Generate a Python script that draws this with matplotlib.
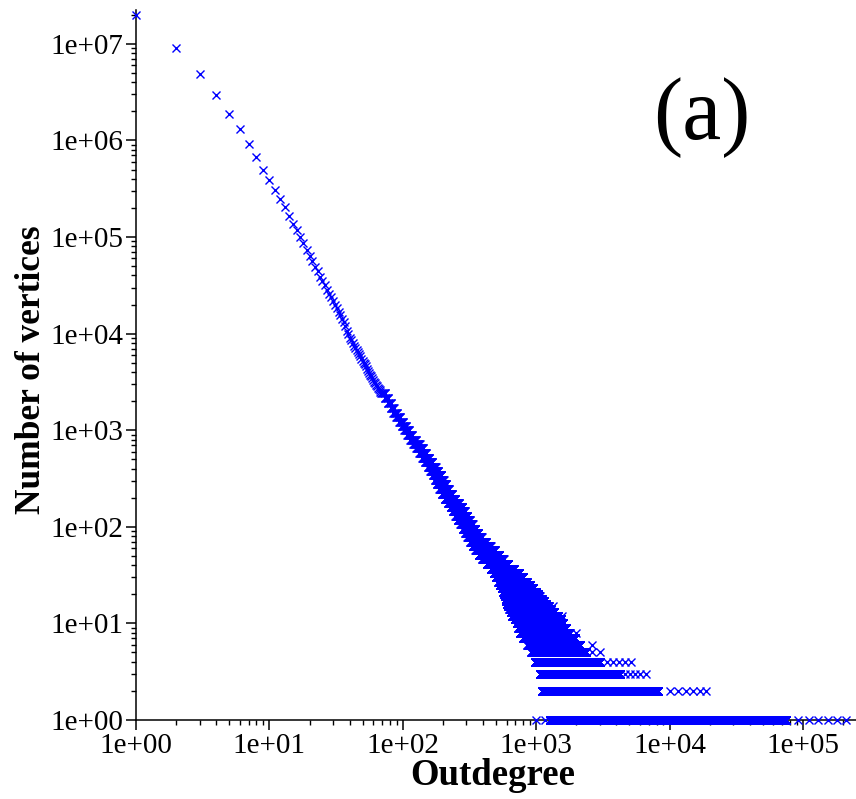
import numpy as np
import matplotlib
matplotlib.use("Agg")
import matplotlib.pyplot as plt
from matplotlib.ticker import LogLocator, FuncFormatter, NullFormatter

plt.rcParams['font.family'] = ['Liberation Serif', 'DejaVu Serif']

# head of the distribution: one marker per outdegree
HEAD_DEGREE = [1, 2, 3, 4, 5, 6, 7, 8, 9, 10,
               11, 12, 13, 14, 15, 16, 17, 18, 19, 20,
               21, 22, 23, 24, 25, 26, 27, 28, 29, 30,
               31, 32, 33, 34, 35, 36, 37, 38, 39, 40,
               41, 42, 43, 44, 45, 46, 47, 48, 49, 50,
               51, 52, 53, 54, 55, 56, 57, 58, 59, 60,
               61, 62, 63, 64, 65, 66, 67, 68, 69]
HEAD_COUNT = [2.0e7, 9.1e6, 4.9e6, 2.94e6, 1.87e6, 1.32e6, 9.1e5, 6.7e5, 5.0e5, 3.9e5,
              3.1e5, 2.46e5, 2.04e5, 1.66e5, 1.38e5, 1.18e5, 1.0e5, 8.6e4, 7.4e4, 6.4e4,
              5.6e4, 4.95e4, 4.4e4, 3.9e4, 3.5e4, 3.15e4, 2.85e4, 2.6e4, 2.37e4, 2.16e4,
              1.98e4, 1.82e4, 1.68e4, 1.55e4, 1.43e4, 1.33e4, 1.19e4, 1.07e4, 9.8e3, 9.0e3,
              8.5e3, 8.0e3, 7.5e3, 7.1e3, 6.7e3, 6.4e3, 6.1e3, 5.8e3, 5.5e3, 5.2e3,
              5.0e3, 4.8e3, 4.6e3, 4.35e3, 4.1e3, 3.9e3, 3.75e3, 3.6e3, 3.45e3, 3.3e3,
              3.17e3, 3.05e3, 2.95e3, 2.85e3, 2.75e3, 2.65e3, 2.58e3, 2.5e3, 2.45e3]

# tail cloud: every outdegree from ROW_FIRST to ROW_LAST has ROW_COUNT vertices
ROW_COUNT = [2400, 2150, 1900, 1700, 1520, 1360, 1220, 1100,
             1000, 900, 800, 720, 650, 580, 520, 470, 420, 380,
             340, 305, 275, 245, 220, 195, 175, 160, 145, 130,
             118, 106, 96, 86, 78, 70, 63, 57, 51, 46,
             41, 37, 33, 30, 27, 25, 23, 21, 20, 19,
             18, 17, 16, 15, 14, 13, 12, 11, 10, 9,
             8, 7, 6, 5, 4, 3, 2, 1]
ROW_FIRST = [70, 73, 77, 81, 85, 89, 94, 98,
             103, 108, 114, 120, 126, 133, 140, 147, 154, 161,
             168, 174, 180, 188, 196, 206, 218, 228, 238, 248,
             258, 270, 282, 294, 305, 320, 335, 350, 370, 395,
             425, 455, 480, 500, 520, 535, 550, 565, 575, 585,
             590, 595, 600, 615, 630, 645, 660, 690, 715, 735,
             755, 800, 860, 920, 980, 1065, 1110, 1270]
ROW_LAST = [74, 78, 82, 86, 91, 96, 101, 106,
            112, 118, 126, 134, 142, 150, 158, 167, 176, 185,
            195, 203, 212, 222, 234, 248, 264, 280, 292, 305,
            318, 334, 350, 368, 390, 420, 455, 490, 530, 570,
            620, 680, 745, 800, 850, 900, 950, 1000, 1030, 1060,
            1100, 1140, 1180, 1240, 1300, 1370, 1450, 1530, 1600, 1680,
            1780, 1950, 2150, 2350, 3000, 4250, 8200, 75000]

# loose markers at the ragged ends of the strips
SPARSE_DEGREE = [1040, 1330, 1560, 2000, 2620, 2600, 3000,
                 3370, 3780, 4200, 4630, 5100,
                 4630, 5050, 5500, 6000, 6650,
                 10100, 11600, 13300, 15100, 16900, 18700,
                 1000, 1160, 92000, 112000, 130000, 155000, 180000, 212000]
SPARSE_COUNT = [20, 15, 12, 8, 6, 5, 5,
                4, 4, 4, 4, 4,
                3, 3, 3, 3, 3,
                2, 2, 2, 2, 2, 2,
                1, 1, 1, 1, 1, 1, 1, 1]

degree = list(HEAD_DEGREE) + list(SPARSE_DEGREE)
count = list(HEAD_COUNT) + list(SPARSE_COUNT)
for c, lo, hi in zip(ROW_COUNT, ROW_FIRST, ROW_LAST):
    d = np.arange(lo, hi + 1)
    degree.extend(d)
    count.extend([c] * len(d))

W, H = 856, 799
fig = plt.figure(figsize=(W / 100, H / 100), dpi=100)
ax = fig.add_axes([136 / W, 79 / H, 720 / W, 710 / H])

ax.plot(degree, count, linestyle='none', marker='x', markersize=5.8,
        markeredgewidth=1.0, color='#0000ff', clip_on=False, zorder=3)

ax.set_xscale('log')
ax.set_yscale('log')
ax.set_xlim(1, 2.5e5)
ax.set_ylim(1, 2.24e7)

for s in ['top', 'right']:
    ax.spines[s].set_visible(False)
for s in ['left', 'bottom']:
    ax.spines[s].set_linewidth(1.1)

fmt = FuncFormatter(lambda v, p: "1e+%02d" % round(np.log10(v)))
for axis in [ax.xaxis, ax.yaxis]:
    axis.set_major_locator(LogLocator(base=10, numticks=20))
    axis.set_minor_locator(LogLocator(base=10, subs=np.arange(2, 10), numticks=20))
    axis.set_major_formatter(fmt)
    axis.set_minor_formatter(NullFormatter())

ax.tick_params(which='major', direction='out', length=7.2, width=1.1, labelsize=21, pad=2)
ax.tick_params(which='minor', direction='out', length=3.6, width=1.0)

ax.set_xlabel("Outdegree", fontsize=26.5, fontweight='bold')
ax.set_ylabel("Number of vertices", fontsize=25.5, fontweight='bold')
ax.xaxis.set_label_coords(0.496, -0.054)
ax.yaxis.set_label_coords(-0.122, 0.493)

fig.text(702 / W, 1 - 118 / H, "(a)", fontsize=63, ha='center', va='center')

fig.savefig("out.png", dpi=100)
